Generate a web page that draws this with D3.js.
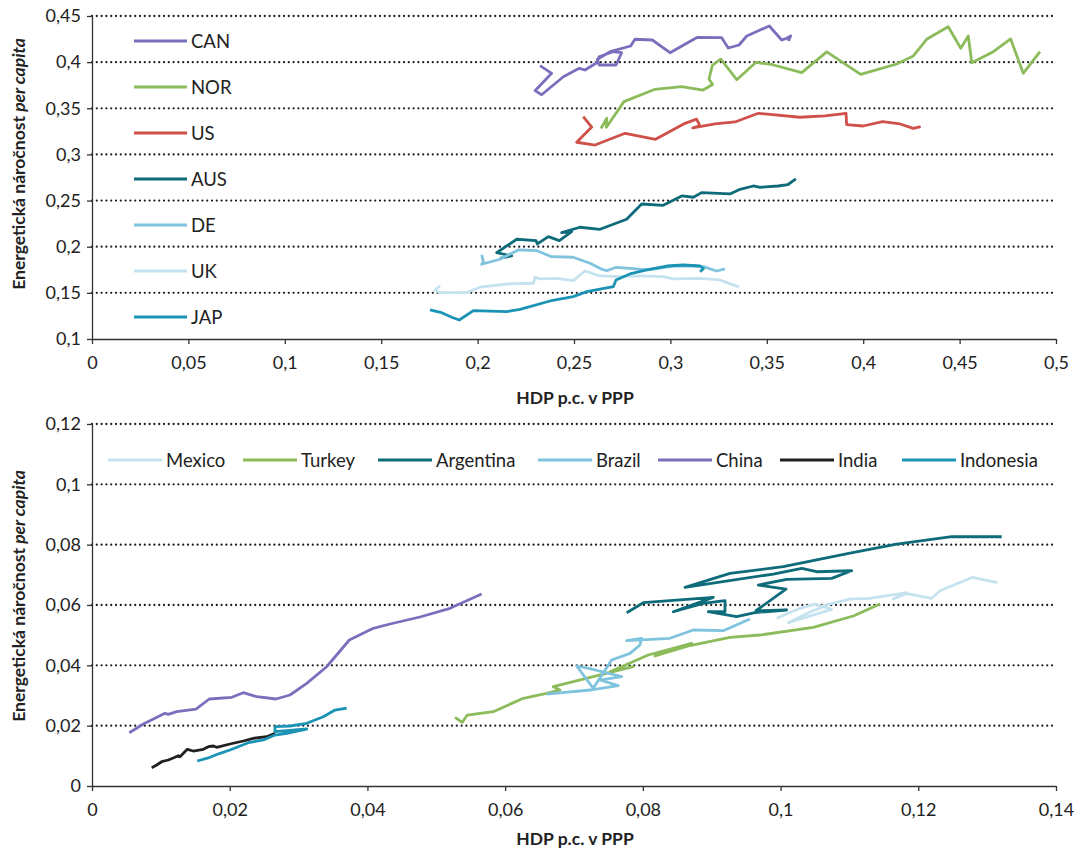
<!DOCTYPE html>
<html><head><meta charset="utf-8">
<script src="https://cdn.jsdelivr.net/npm/d3@7"></script>
<style>body{margin:0;background:#fff;} text{font-family:Lato,"Open Sans",sans-serif;}</style>
</head><body><svg id="c" width="1076" height="852"></svg>
<script>
// ---------- data (top panel) ----------
const topNames = ["CAN","NOR","US","AUS","DE","UK","JAP"];
const topColors = ["#7b6fbd","#8bbb5a","#d0504a","#0e6b7a","#7fc3de","#c5e2ef","#1b93b5"];
const topXTicks = [0,0.05,0.1,0.15,0.2,0.25,0.3,0.35,0.4,0.45,0.5];
const topYTicks = [0.1,0.15,0.2,0.25,0.3,0.35,0.4,0.45];
const CAN = [[0.2324,0.3962],[0.2384,0.3879],[0.2298,0.3691],[0.2332,0.3647],[0.2445,0.3842],[0.2527,0.3933],[0.2557,0.3915],[0.2618,0.3994],[0.2630,0.4059],[0.2702,0.4113],[0.2747,0.4102],[0.2718,0.3969],[0.2631,0.3969],[0.2621,0.4031],[0.2687,0.4113],[0.2794,0.4175],[0.2816,0.4248],[0.2906,0.4240],[0.2998,0.4102],[0.3140,0.4269],[0.3266,0.4265],[0.3300,0.4153],[0.3356,0.4186],[0.3396,0.4283],[0.3513,0.4392],[0.3577,0.4240],[0.3603,0.4258],[0.3624,0.4283],[0.3612,0.4229]];
const NOR = [[0.2640,0.3281],[0.2670,0.3392],[0.2668,0.3294],[0.2759,0.3572],[0.2920,0.3706],[0.3059,0.3734],[0.3169,0.3698],[0.3219,0.3758],[0.3200,0.3817],[0.3218,0.3966],[0.3261,0.4034],[0.3344,0.3810],[0.3444,0.3998],[0.3530,0.3972],[0.3681,0.3886],[0.3811,0.4112],[0.3987,0.3868],[0.4174,0.3980],[0.4260,0.4067],[0.4329,0.4248],[0.4441,0.4384],[0.4506,0.4150],[0.4545,0.4283],[0.4563,0.3994],[0.4675,0.4113],[0.4765,0.4251],[0.4830,0.3879],[0.4917,0.4113]];
const US = [[0.2548,0.3409],[0.2592,0.3297],[0.2514,0.3132],[0.2609,0.3102],[0.2765,0.3229],[0.2923,0.3164],[0.3076,0.3337],[0.3136,0.3382],[0.3152,0.3314],[0.3116,0.3287],[0.3231,0.3330],[0.3335,0.3352],[0.3456,0.3446],[0.3672,0.3403],[0.3802,0.3417],[0.3911,0.3446],[0.3914,0.3324],[0.3999,0.3308],[0.4101,0.3355],[0.4191,0.3330],[0.4260,0.3283],[0.4298,0.3301]];
const AUS = [[0.2116,0.1875],[0.2177,0.1900],[0.2099,0.1936],[0.2203,0.2081],[0.2303,0.2066],[0.2310,0.2030],[0.2367,0.2109],[0.2424,0.2066],[0.2488,0.2163],[0.2436,0.2152],[0.2531,0.2211],[0.2635,0.2189],[0.2773,0.2297],[0.2851,0.2463],[0.2963,0.2449],[0.3059,0.2550],[0.3119,0.2536],[0.3162,0.2586],[0.3309,0.2572],[0.3361,0.2622],[0.3430,0.2658],[0.3465,0.2644],[0.3558,0.2658],[0.3610,0.2674],[0.3651,0.2734]];
const DE = [[0.2021,0.1911],[0.2030,0.1838],[0.2021,0.1810],[0.2116,0.1864],[0.2211,0.1965],[0.2307,0.1957],[0.2384,0.1892],[0.2496,0.1886],[0.2583,0.1821],[0.2644,0.1756],[0.2670,0.1740],[0.2718,0.1777],[0.2808,0.1762],[0.2877,0.1748],[0.2929,0.1762],[0.3015,0.1791],[0.3119,0.1791],[0.3171,0.1784],[0.3240,0.1737],[0.3283,0.1759]];
const UK = [[0.1805,0.1575],[0.1779,0.1531],[0.1805,0.1502],[0.1943,0.1502],[0.2012,0.1561],[0.2151,0.1596],[0.2289,0.1604],[0.2298,0.1669],[0.2324,0.1651],[0.2410,0.1658],[0.2496,0.1632],[0.2557,0.1737],[0.2635,0.1683],[0.2739,0.1676],[0.2842,0.1683],[0.2963,0.1676],[0.3015,0.1651],[0.3154,0.1658],[0.3257,0.1640],[0.3326,0.1586],[0.3357,0.1561]];
const JAP = [[0.1753,0.1315],[0.1814,0.1285],[0.1866,0.1236],[0.1905,0.1206],[0.1978,0.1307],[0.2151,0.1296],[0.2220,0.1322],[0.2376,0.1412],[0.2496,0.1459],[0.2566,0.1513],[0.2704,0.1567],[0.2718,0.1640],[0.2790,0.1705],[0.2877,0.1748],[0.2981,0.1791],[0.3067,0.1802],[0.3154,0.1791],[0.3171,0.1761],[0.3154,0.1728]];

// ---------- data (bottom panel) ----------
const botNames = ["Mexico","Turkey","Argentina","Brazil","China","India","Indonesia"];
const botColors = ["#c5e2ef","#8bbb5a","#0e6b7a","#7fc3de","#7b6fbd","#231f20","#1b93b5"];
const botXTicks = [0,0.02,0.04,0.06,0.08,0.1,0.12,0.14];
const botYTicks = [0,0.02,0.04,0.06,0.08,0.1,0.12];
const Mexico = [[0.09943,0.05558],[0.10282,0.05890],[0.10500,0.06033],[0.10742,0.05857],[0.10112,0.05413],[0.10427,0.05767],[0.10717,0.06033],[0.11008,0.06198],[0.11298,0.06222],[0.11831,0.06407],[0.11637,0.06198],[0.11831,0.06381],[0.12194,0.06222],[0.12315,0.06474],[0.12790,0.06918],[0.13147,0.06739]];
const Turkey = [[0.05272,0.02277],[0.05378,0.02111],[0.05450,0.02353],[0.05828,0.02463],[0.06263,0.02907],[0.06603,0.03073],[0.06796,0.03182],[0.06699,0.03291],[0.07861,0.03954],[0.07523,0.03789],[0.08079,0.04342],[0.08709,0.04730],[0.08176,0.04309],[0.08684,0.04657],[0.09265,0.04929],[0.09701,0.05005],[0.10475,0.05260],[0.11056,0.05635],[0.11444,0.06033]];
const Argentina = [[0.07765,0.05744],[0.08006,0.06076],[0.09023,0.06255],[0.08442,0.05777],[0.08877,0.06056],[0.09193,0.06142],[0.09193,0.05777],[0.08950,0.05777],[0.09362,0.05612],[0.09628,0.05744],[0.10088,0.05834],[0.09643,0.05810],[0.10079,0.06530],[0.09676,0.06662],[0.10088,0.06851],[0.10742,0.06884],[0.11032,0.07136],[0.10524,0.07103],[0.10307,0.07216],[0.09894,0.07027],[0.08612,0.06586],[0.09265,0.07050],[0.10039,0.07269],[0.11008,0.07723],[0.11686,0.08021],[0.12485,0.08263],[0.13211,0.08263]];
const Brazil = [[0.06603,0.03049],[0.07232,0.03182],[0.07643,0.03325],[0.07377,0.03513],[0.07692,0.03623],[0.07421,0.03779],[0.07232,0.03888],[0.07039,0.03978],[0.07280,0.03238],[0.07547,0.04176],[0.07813,0.04398],[0.07958,0.04674],[0.07983,0.04896],[0.07765,0.04816],[0.08394,0.04896],[0.08732,0.05171],[0.09168,0.05148],[0.09555,0.05535]];
const China = [[0.00542,0.01767],[0.00745,0.02055],[0.01060,0.02410],[0.01108,0.02377],[0.01230,0.02463],[0.01510,0.02552],[0.01703,0.02884],[0.02029,0.02940],[0.02197,0.03093],[0.02392,0.02960],[0.02672,0.02884],[0.02875,0.03016],[0.03118,0.03404],[0.03408,0.03954],[0.03737,0.04839],[0.04085,0.05227],[0.04328,0.05370],[0.04763,0.05602],[0.05199,0.05890],[0.05659,0.06364]];
const India = [[0.00867,0.00607],[0.00940,0.00696],[0.01012,0.00805],[0.01108,0.00862],[0.01205,0.00951],[0.01253,0.01004],[0.01278,0.00971],[0.01384,0.01216],[0.01471,0.01160],[0.01616,0.01216],[0.01689,0.01303],[0.01762,0.01326],[0.01811,0.01283],[0.02004,0.01392],[0.02197,0.01492],[0.02343,0.01581],[0.02537,0.01634],[0.02658,0.01747]];
const Indonesia = [[0.01529,0.00829],[0.01714,0.00951],[0.01859,0.01084],[0.02004,0.01193],[0.02270,0.01435],[0.02488,0.01525],[0.02658,0.01690],[0.02827,0.01747],[0.03118,0.01889],[0.02658,0.01800],[0.02658,0.01966],[0.02875,0.01989],[0.03118,0.02078],[0.03359,0.02297],[0.03529,0.02519],[0.03699,0.02585]];

const xTitle = "HDP p.c. v PPP";
const yTitleMain = "Energetická náročnost ";
const yTitleItalic = "per capita";

// ---------- drawing ----------
const svg = d3.select("#c");
const loc = d3.formatLocale({decimal:",", thousands:" ", grouping:[3], currency:["",""]});
const fmt = loc.format("~g");

function panel(opt){
  const x = d3.scaleLinear().domain(opt.xDomain).range([92,1056]);
  const y = d3.scaleLinear().domain(opt.yDomain).range([opt.yBottom,opt.yTop]);
  const g = svg.append("g");
  g.selectAll("line.grid").data(opt.yTicks.filter(v=>v!==opt.yDomain[0])).join("line")
    .attr("x1",x.range()[0]).attr("x2",x.range()[1])
    .attr("y1",d=>y(d)).attr("y2",d=>y(d))
    .attr("stroke","#222").attr("stroke-width",2.3)
    .attr("stroke-dasharray","0 4.8").attr("stroke-linecap","round");
  const ax = g.append("g").attr("transform",`translate(0,${opt.yBottom})`)
    .call(d3.axisBottom(x).tickValues(opt.xTicks).tickFormat(fmt).tickSize(5).tickSizeOuter(0));
  const ay = g.append("g").attr("transform",`translate(92,0)`)
    .call(d3.axisLeft(y).tickValues(opt.yTicks).tickFormat(fmt).tickSize(5).tickSizeOuter(0));
  [ax,ay].forEach(a=>{
    a.select(".domain").attr("stroke","#333").attr("stroke-width",1.3);
    a.selectAll(".tick line").attr("stroke","#333").attr("stroke-width",1.3);
    a.selectAll(".tick text").attr("font-size",18).attr("fill","#222")
      .style("font-family","Lato, 'Open Sans', sans-serif");
  });
  ax.selectAll(".tick text").attr("dy","1.2em");
  ay.selectAll(".tick text").attr("x",-11);
  const line = d3.line().x(d=>x(d[0])).y(d=>y(d[1]));
  opt.series.forEach((s,i)=>{
    g.append("path").datum(s).attr("d",line).attr("fill","none")
      .attr("stroke",opt.colors[i]).attr("stroke-width",2.8)
      .attr("stroke-linejoin","round").attr("stroke-linecap","butt");
  });
  g.append("text").attr("x",575).attr("y",opt.xTitleY).attr("text-anchor","middle")
    .attr("font-size",17.5).attr("font-weight","bold").attr("fill","#222").text(xTitle);
  const yt = g.append("text").attr("transform",`translate(25,${opt.yTitleC}) rotate(-90)`)
    .attr("text-anchor","middle").attr("font-size",17.5).attr("font-weight","bold").attr("fill","#222");
  yt.append("tspan").text(yTitleMain);
  yt.append("tspan").attr("font-style","italic").text(yTitleItalic);
  return {x,y,g};
}

panel({xDomain:[0,0.5], yDomain:[0.1,0.45], yTop:16, yBottom:339,
  xTicks:topXTicks, yTicks:topYTicks, series:[CAN,NOR,US,AUS,DE,UK,JAP], colors:topColors,
  xTitleY:404, yTitleC:164});
panel({xDomain:[0,0.14], yDomain:[0,0.12], yTop:424, yBottom:786,
  xTicks:botXTicks, yTicks:botYTicks, series:[Mexico,Turkey,Argentina,Brazil,China,India,Indonesia], colors:botColors,
  xTitleY:845, yTitleC:596});

const lg1 = svg.append("g").selectAll("g").data(topNames).join("g")
  .attr("transform",(d,i)=>`translate(0,${41 + i*46})`);
lg1.append("line").attr("x1",134).attr("x2",187).attr("y1",0).attr("y2",0)
  .attr("stroke",(d,i)=>topColors[i]).attr("stroke-width",3);
lg1.append("text").attr("x",191).attr("y",0).attr("dy","0.36em").attr("font-size",18.5)
  .attr("fill","#222").text(d=>d);

const legX = [108,243,378,538,658,780,902];
const lg2 = svg.append("g").selectAll("g").data(botNames).join("g")
  .attr("transform",(d,i)=>`translate(${legX[i]},460)`);
lg2.append("line").attr("x1",0).attr("x2",54).attr("y1",0).attr("y2",0)
  .attr("stroke",(d,i)=>botColors[i]).attr("stroke-width",3);
lg2.append("text").attr("x",58).attr("y",0).attr("dy","0.36em").attr("font-size",18.5)
  .attr("fill","#222").text(d=>d);
</script></body></html>
